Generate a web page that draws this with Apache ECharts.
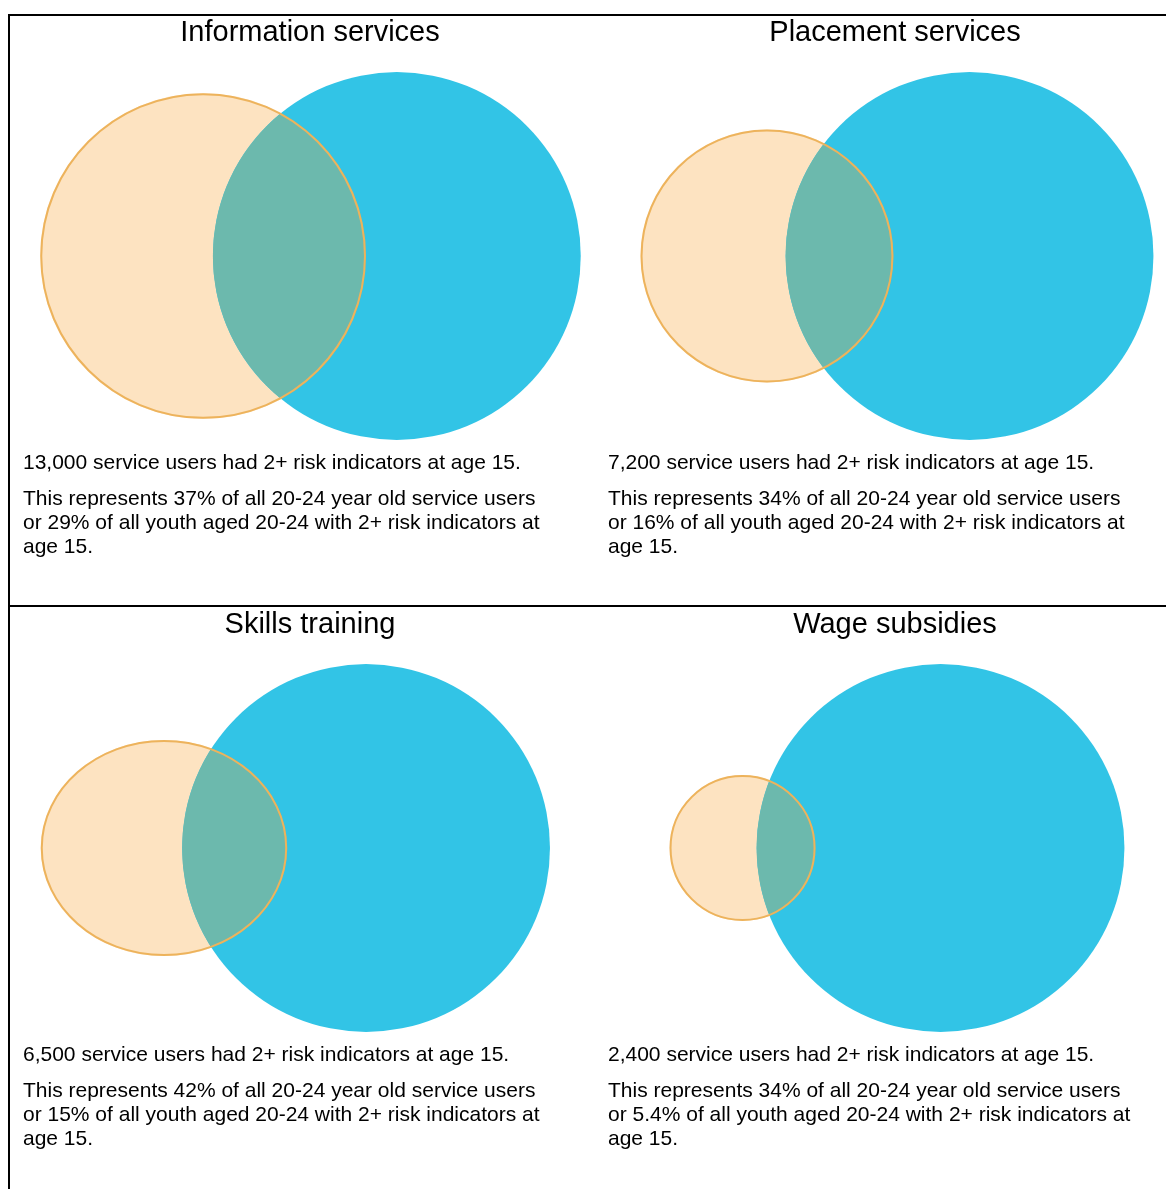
<!DOCTYPE html>
<html><head><meta charset="utf-8">
<script src="https://cdn.jsdelivr.net/npm/echarts@6.0.0/dist/echarts.min.js"></script>
<style>html,body{margin:0;padding:0;background:#fff}#c{width:1166px;height:1189px}</style>
</head><body><div id="c"></div>
<script>
// ---- data ----
const panelTitles = ['Information services', 'Placement services', 'Skills training', 'Wage subsidies'];
const sharedUsers = [13000, 7200, 6500, 2400];          // service users with 2+ risk indicators (overlap)
const pctOfServiceUsers = [37, 34, 42, 34];             // % of all 20-24 year old service users
const pctOfRiskYouth = [29, 16, 15, 5.4];               // % of all youth aged 20-24 with 2+ risk indicators
const riskYouthTotal = 44800;                           // all youth 20-24 with 2+ risk indicators (same population in every panel, estimated)

// ---- Venn geometry (area-proportional) ----
function lensArea(r1, r2, d) {
  if (d >= r1 + r2) return 0;
  if (d <= Math.abs(r1 - r2)) return Math.PI * Math.min(r1, r2) ** 2;
  const a1 = Math.acos((d * d + r1 * r1 - r2 * r2) / (2 * d * r1));
  const a2 = Math.acos((d * d + r2 * r2 - r1 * r1) / (2 * d * r2));
  const k = Math.sqrt((-d + r1 + r2) * (d + r1 - r2) * (d - r1 + r2) * (d + r1 + r2));
  return r1 * r1 * a1 + r2 * r2 * a2 - 0.5 * k;
}
function solveDistance(r1, r2, area) {
  let lo = Math.abs(r1 - r2), hi = r1 + r2;
  for (let i = 0; i < 80; i++) {
    const mid = (lo + hi) / 2;
    if (lensArea(r1, r2, mid) > area) lo = mid; else hi = mid;
  }
  return (lo + hi) / 2;
}
const venn = panelTitles.map((t, i) => {
  const users = sharedUsers[i] / (pctOfServiceUsers[i] / 100);
  const youth = riskYouthTotal;
  const r1 = Math.sqrt(users / Math.PI), r2 = Math.sqrt(youth / Math.PI);
  const d = solveDistance(r1, r2, sharedUsers[i]);
  const shift = (-r1 + d + r2) / 2;
  return { xo: -shift, xb: d - shift, r1, r2 };
});

// ---- layout ----
const C = { orangeFill: '#FDE3C1', orangeStroke: '#EDB35C', blue: '#32C4E6', overlap: '#6CB9AD' };
const panelCX = [310.5, 897, 310.5, 897];
const panelCY = [256, 256, 848, 848];
const orangeStretchX = [1, 1, 1.14, 1];   // the original artwork draws one orange shape slightly widened
const GW = 492.8, GH = 431.2;   // 320 x 280 data units (same px per unit on both axes)
const textX = [23, 608, 23, 608];
const textTop = [463, 463, 1055, 1055];

const fmt = n => n.toLocaleString('en-US');

const grids = [], xAxes = [], yAxes = [], series = [];
venn.forEach((v, i) => {
  grids.push({ left: panelCX[i] - GW / 2, top: panelCY[i] - GH / 2, width: GW, height: GH, containLabel: false });
  xAxes.push({ gridIndex: i, type: 'value', min: -160, max: 160, show: false });
  yAxes.push({ gridIndex: i, type: 'value', min: -140, max: 140, show: false });
  const sx = orangeStretchX[i];
  // kind: 0 orange fill, 1 blue fill, 2 overlap, 3 orange outline
  const data = [
    [v.xo, 0, v.r1, 0, v.xb, v.r2],
    [v.xb, 0, v.r2, 1, v.xo, v.r1],
    [v.xo, 0, v.r1, 2, v.xb, v.r2],
    [v.xo, 0, v.r1, 3, v.xb, v.r2]
  ];
  series.push({
    type: 'custom', xAxisIndex: i, yAxisIndex: i, silent: true, animation: false, clip: false,
    encode: { x: 0, y: 1 },
    data,
    renderItem: (params, api) => {
      const cx = api.value(0), cy = api.value(1), r = api.value(2), kind = api.value(3);
      const cx2 = api.value(4), r2 = api.value(5);
      if (kind === 1) {
        const c = api.coord([cx, cy]);
        const rp = api.size([r, 0])[0];
        return { type: 'circle', shape: { cx: c[0], cy: c[1], r: rp }, style: { fill: C.blue } };
      }
      // orange ellipse (right edge kept, width stretched by sx)
      const rx = r * sx, ry = r;
      const ex = cx + r - rx;
      if (kind === 0 || kind === 3) {
        const c = api.coord([ex, cy]);
        const sz = api.size([rx, ry]);
        const off = kind === 3 ? 1 : 0;
        return { type: 'ellipse', shape: { cx: c[0], cy: c[1], rx: sz[0] - off, ry: sz[1] - off },
          style: kind === 3 ? { fill: null, stroke: C.orangeStroke, lineWidth: 2 } : { fill: C.orangeFill } };
      }
      // overlap region: ellipse arc inside blue circle + blue arc inside ellipse
      const N = 1440, pts = [];
      for (let k = 0; k <= N; k++) {
        const t = Math.PI - 2 * Math.PI * k / N;
        const x = ex + rx * Math.cos(t), y = cy + ry * Math.sin(t);
        if ((x - cx2) ** 2 + (y - cy) ** 2 <= r2 * r2) pts.push(api.coord([x, y]));
      }
      for (let k = 0; k <= N; k++) {
        const t = 2 * Math.PI - 2 * Math.PI * k / N;
        const x = cx2 + r2 * Math.cos(t), y = cy + r2 * Math.sin(t);
        if (((x - ex) / rx) ** 2 + ((y - cy) / ry) ** 2 <= 1) pts.push(api.coord([x, y]));
      }
      return { type: 'polygon', shape: { points: pts }, style: { fill: C.overlap } };
    }
  });
});

const font = '"Liberation Sans", Arial, Helvetica, sans-serif';
const graphics = [
  { type: 'line', shape: { x1: 8, y1: 15, x2: 1166, y2: 15 }, style: { stroke: '#000', lineWidth: 2 } },
  { type: 'line', shape: { x1: 9, y1: 14, x2: 9, y2: 1189 }, style: { stroke: '#000', lineWidth: 2 } },
  { type: 'line', shape: { x1: 8, y1: 606, x2: 1166, y2: 606 }, style: { stroke: '#000', lineWidth: 2 } }
];
panelTitles.forEach((t, i) => {
  graphics.push({ type: 'text', x: [310, 895, 310, 895][i], y: i < 2 ? 33 : 625,
    style: { text: t, fill: '#000', fontFamily: font, fontSize: 29, textAlign: 'center', textVerticalAlign: 'middle' } });
  graphics.push({ type: 'text', x: textX[i], y: textTop[i],
    style: { text: fmt(sharedUsers[i]) + ' service users had 2+ risk indicators at age 15.', fill: '#000', fontFamily: font, fontSize: 21, textAlign: 'left', textVerticalAlign: 'middle' } });
  graphics.push({ type: 'text', x: textX[i], y: textTop[i] + 36 - 12,
    style: { text: 'This represents ' + pctOfServiceUsers[i] + '% of all 20-24 year old service users\nor ' + pctOfRiskYouth[i] + '% of all youth aged 20-24 with 2+ risk indicators at\nage 15.',
      fill: '#000', fontFamily: font, fontSize: 21, lineHeight: 24, textAlign: 'left', textVerticalAlign: 'top' } });
});

const chart = echarts.init(document.getElementById('c'), null, { renderer: 'canvas' });
chart.setOption({
  backgroundColor: '#fff',
  animation: false,
  grid: grids, xAxis: xAxes, yAxis: yAxes, series,
  graphic: graphics
});
</script></body></html>
